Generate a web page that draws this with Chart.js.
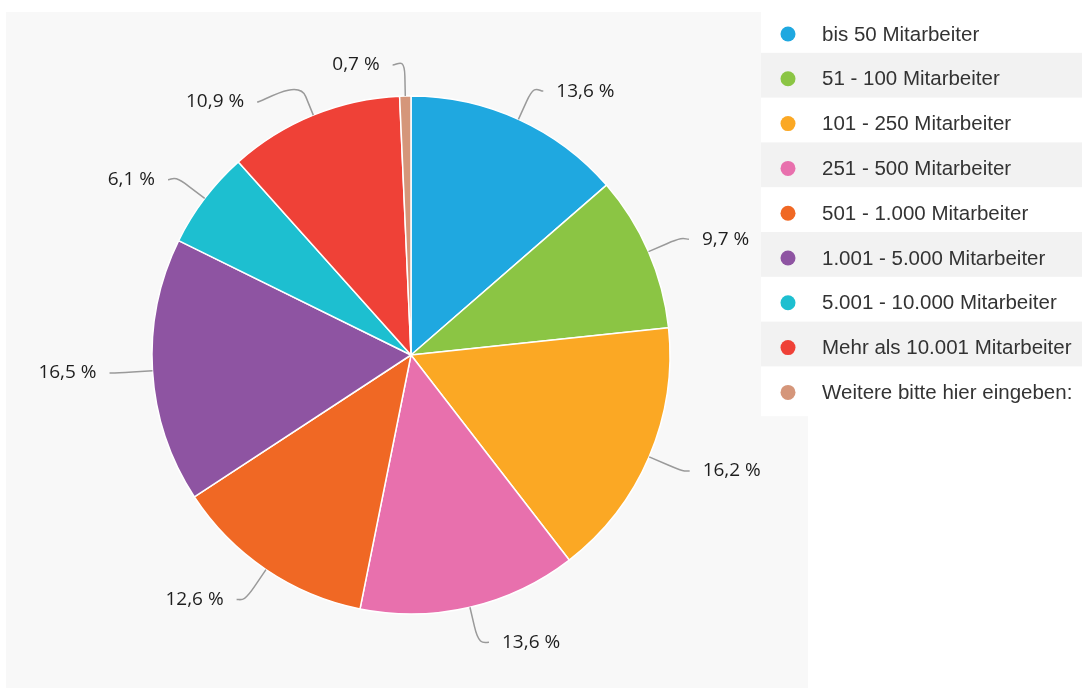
<!DOCTYPE html>
<html>
<head>
<meta charset="utf-8">
<script src="https://cdn.jsdelivr.net/npm/chart.js@4"></script>
<style>
  html, body { margin: 0; padding: 0; background: #ffffff; }
  #wrap { width: 1082px; height: 688px; position: relative; }
</style>
</head>
<body>
<div id="wrap"><canvas id="pie" width="1082" height="688"></canvas></div>
<script>
const categories = [
    'bis 50 Mitarbeiter',
    '51 - 100 Mitarbeiter',
    '101 - 250 Mitarbeiter',
    '251 - 500 Mitarbeiter',
    '501 - 1.000 Mitarbeiter',
    '1.001 - 5.000 Mitarbeiter',
    '5.001 - 10.000 Mitarbeiter',
    'Mehr als 10.001 Mitarbeiter',
    'Weitere bitte hier eingeben:'
]
const shares = [13.6, 9.7, 16.2, 13.6, 12.6, 16.5, 6.1, 10.9, 0.7]
const colors = ['#1fa8e0', '#8bc544', '#fba824', '#e870ad', '#f06824', '#8e54a2', '#1dbfd0', '#ef4137', '#d5967a']

const fmt = v => v.toFixed(1).replace('.', ',') + ' %'

// grey panel behind the pie
const panelBg = {
    id: 'panelBg',
    beforeDraw(chart) {
        const ctx = chart.ctx
        ctx.save()
        ctx.fillStyle = '#f8f8f8'
        ctx.fillRect(6, 12, 802, 676)
        ctx.restore()
    }
}

// outside labels with soft connectors
const sliceLabels = {
    id: 'sliceLabels',
    afterDatasetsDraw(chart) {
        const ctx = chart.ctx
        const arcs = chart.getDatasetMeta(0).data
        const items = arcs.map((arc, i) => {
            const p = arc.getProps(['x', 'y', 'startAngle', 'endAngle', 'outerRadius'], true)
            const a = (p.startAngle + p.endAngle) / 2
            const r = p.outerRadius
            const R = r + 31
            return {
                i, a, r, R, cx: p.x, cy: p.y,
                cos: Math.cos(a), sin: Math.sin(a),
                ly: p.y + Math.sin(a) * R
            }
        })
        const gap = 37
        ;[items.filter(o => o.cos >= 0), items.filter(o => o.cos < 0)].forEach(side => {
            side.sort((m, n) => m.ly - n.ly)
            for (let k = 1; k < side.length; k++) {
                if (side[k].ly < side[k - 1].ly + gap) side[k].ly = side[k - 1].ly + gap
            }
        })
        ctx.save()
        items.forEach(o => {
            const dir = o.cos >= 0 ? 1 : -1
            const dy = o.ly - o.cy
            const lx = o.cx + dir * Math.sqrt(Math.max(o.R * o.R - dy * dy, 0))
            const ly = o.ly + (o.sin > 0 ? 5 * o.sin : 0)
            const ex = lx + dir * 12
            const tx = { x: o.cx + o.cos * o.r, y: o.cy + o.sin * o.r }
            const bx = { x: o.cx + o.cos * (o.r + 20), y: o.cy + o.sin * (o.r + 20) }
            ctx.strokeStyle = '#9a9a9a'
            ctx.lineWidth = 1.5
            ctx.beginPath()
            ctx.moveTo(ex, ly)
            ctx.bezierCurveTo(ex - dir * 5, ly, 2 * bx.x - tx.x, 2 * bx.y - tx.y, bx.x, bx.y)
            ctx.lineTo(tx.x, tx.y)
            ctx.stroke()
            ctx.fillStyle = '#1e1e1e'
            ctx.font = '19px "Open Sans"'
            ctx.textBaseline = 'middle'
            ctx.textAlign = dir > 0 ? 'left' : 'right'
            ctx.fillText(fmt(shares[o.i]), lx + dir * 25, ly)
        })
        ctx.restore()
    }
}

// legend box on the right
const sideLegend = {
    id: 'sideLegend',
    afterDraw(chart) {
        const ctx = chart.ctx
        const x0 = 761, y0 = 8, rowH = 44.8
        ctx.save()
        ctx.fillStyle = '#ffffff'
        ctx.fillRect(x0, y0, 1082 - x0, categories.length * rowH + 5)
        categories.forEach((c, i) => {
            const top = y0 + i * rowH
            if (i % 2 === 1) {
                ctx.fillStyle = '#f2f2f2'
                ctx.fillRect(x0, top, 1082 - x0, rowH)
            }
            const mid = top + 26
            ctx.fillStyle = colors[i]
            ctx.beginPath()
            ctx.arc(788, mid, 7.5, 0, Math.PI * 2)
            ctx.fill()
            ctx.fillStyle = '#333333'
            ctx.font = '20.5px "Liberation Sans", Arial, sans-serif'
            ctx.textBaseline = 'middle'
            ctx.textAlign = 'left'
            ctx.fillText(c, 822, mid + 1)
        })
        ctx.restore()
    }
}

new Chart(document.getElementById('pie'), {
    type: 'pie',
    data: {
        labels: categories,
        datasets: [{
            data: shares,
            backgroundColor: colors,
            borderColor: '#ffffff',
            borderWidth: 1.5,
            radius: 259
        }]
    },
    options: {
        responsive: false,
        animation: false,
        events: [],
        layout: { padding: { left: 100, right: 360, top: 60, bottom: 38 } },
        plugins: {
            legend: { display: false },
            tooltip: { enabled: false }
        }
    },
    plugins: [panelBg, sliceLabels, sideLegend]
})
</script>
</body>
</html>
